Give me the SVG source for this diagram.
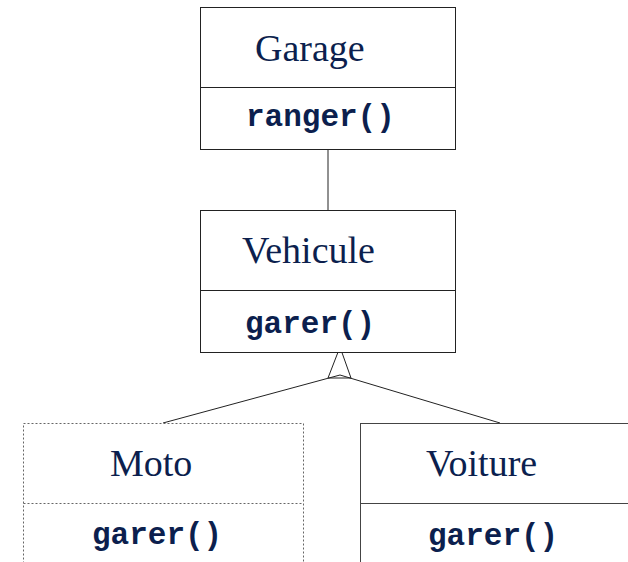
<svg xmlns="http://www.w3.org/2000/svg" width="628" height="562" viewBox="0 0 628 562">
  <style>
    .box { fill: #ffffff; stroke: #222222; stroke-width: 1; }
    .dash { fill: #ffffff; stroke: #666666; stroke-width: 1; stroke-dasharray: 2 2; }
    .title { font-family: "Liberation Serif", "Times New Roman", serif; font-size: 38px; fill: #0c1f4e; }
    .op { font-family: "Liberation Mono", "Courier New", monospace; font-size: 31px; font-weight: bold; fill: #0c1f4e; }
    .link { stroke: #222222; stroke-width: 1; fill: none; }
  </style>
  <rect width="628" height="562" fill="#ffffff"/>

  <g id="connectors">
    <line class="link" x1="328" y1="149" x2="328" y2="210"/>
    <line class="link" x1="163" y1="423" x2="340" y2="375"/>
    <line class="link" x1="500" y1="423" x2="340" y2="375"/>
    <polygon class="link" points="340,347 328,378 351,378"/>
  </g>

  <g id="garage">
    <rect class="box" x="200.5" y="7.5" width="255" height="142"/>
    <line class="link" x1="200.5" y1="87.5" x2="455.5" y2="87.5"/>
    <text class="title" x="255" y="61">Garage</text>
    <text class="op" x="246" y="126">ranger()</text>
  </g>

  <g id="vehicule">
    <rect class="box" x="200.5" y="210.5" width="255" height="142"/>
    <line class="link" x1="200.5" y1="290.5" x2="455.5" y2="290.5"/>
    <text class="title" x="242" y="263">Vehicule</text>
    <text class="op" x="245" y="333">garer()</text>
  </g>

  <g id="moto">
    <rect class="dash" x="23.5" y="423.5" width="280" height="150"/>
    <line class="dash" x1="23.5" y1="503.5" x2="303.5" y2="503.5"/>
    <text class="title" x="110" y="476">Moto</text>
    <text class="op" x="92" y="544">garer()</text>
  </g>

  <g id="voiture">
    <rect class="box" x="360.5" y="423.5" width="280" height="150" style="stroke:#444444"/>
    <line class="link" x1="360.5" y1="503.5" x2="628" y2="503.5" style="stroke:#444444"/>
    <text class="title" x="426" y="476">Voiture</text>
    <text class="op" x="428" y="545">garer()</text>
  </g>
</svg>
